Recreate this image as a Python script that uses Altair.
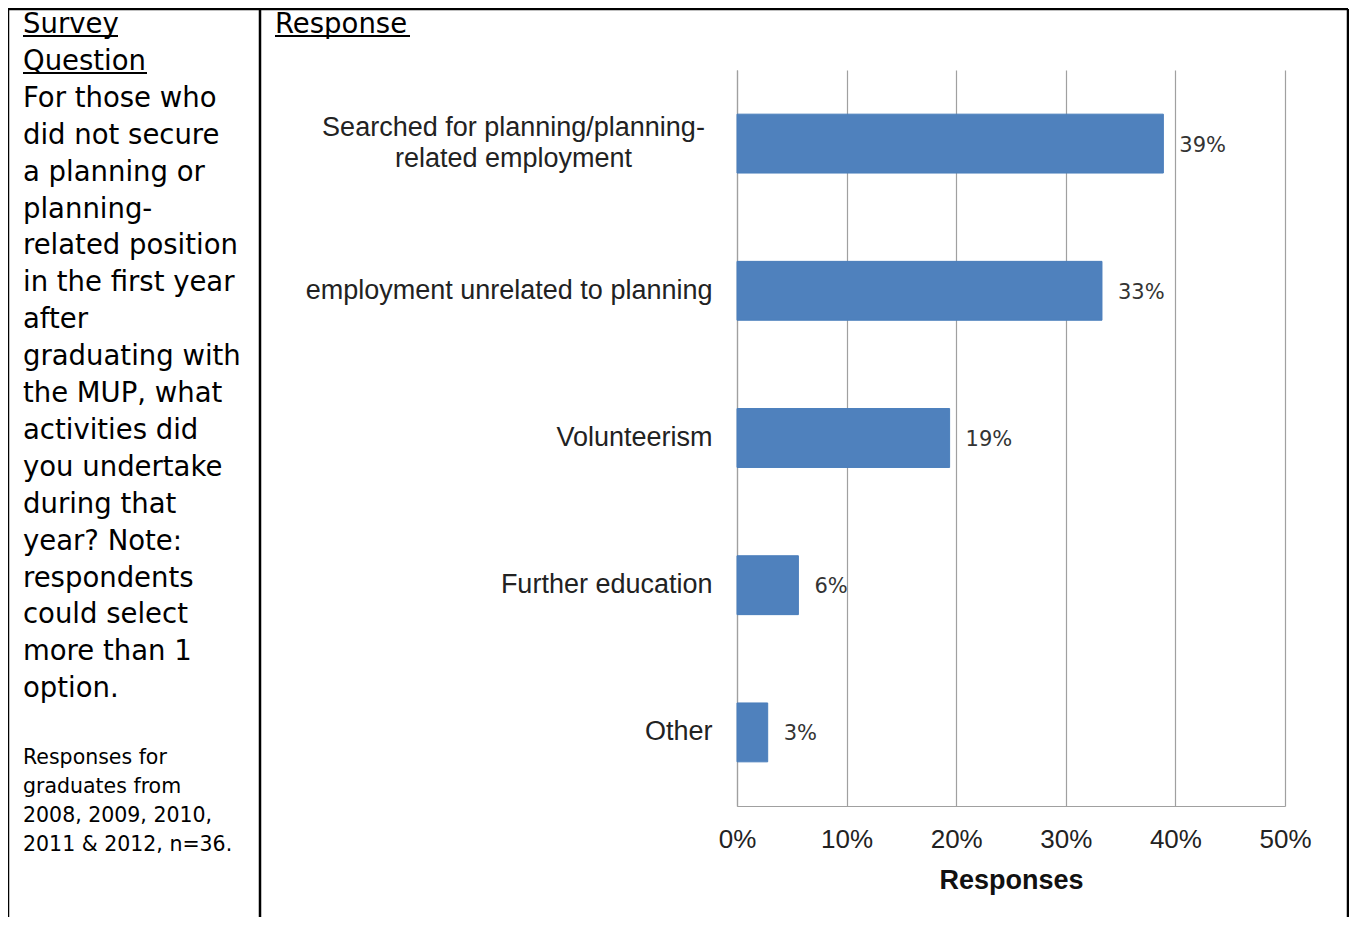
import altair as alt
import pandas as pd

# ---- data ----
categories = [
    "Searched for planning/planning-\nrelated employment",
    "employment unrelated to planning",
    "Volunteerism",
    "Further education",
    "Other",
]
shares = [0.389, 0.333, 0.194, 0.056, 0.028]
x_ticks = [0, 0.1, 0.2, 0.3, 0.4, 0.5]

question_lines = [
    "Survey", "Question", "For those who", "did not secure", "a planning or",
    "planning-", "related position", "in the first year", "after",
    "graduating with", "the MUP, what", "activities did", "you undertake",
    "during that", "year?  Note:", "respondents", "could select",
    "more than 1", "option.",
]
note_lines = ["Responses for", "graduates from", "2008, 2009, 2010,", "2011 & 2012, n=36."]
response_header = "Response"

df = pd.DataFrame({"Category": categories, "Share": shares})
one = pd.DataFrame({"k": [0]})

# plot area origin in page coordinates is (737, 70)
W, H = 548, 736
OX, OY = 737, 70

is_two_line = "indexof(datum.label, 'Searched') == 0"

y_enc = alt.Y(
    "Category:N",
    sort=categories,
    title=None,
    scale=alt.Scale(paddingInner=0.6, paddingOuter=0.3),
    axis=alt.Axis(
        labelExpr="split(datum.label, '\\n')",
        labelFont="Liberation Sans",
        labelFontSize=27,
        labelColor="#222222",
        labelPadding={"condition": {"test": is_two_line, "value": 224}, "value": 25},
        labelAlign={"condition": {"test": is_two_line, "value": "center"}, "value": "right"},
        labelOffset={"condition": {"test": is_two_line, "value": -16}, "value": 0},
        labelLimit=600,
        labelLineHeight=31,
        ticks=False,
        grid=False,
        domainColor="#a0a0a0",
        domainWidth=1.2,
    ),
)
x_enc = alt.X(
    "Share:Q",
    scale=alt.Scale(domain=[0, 0.5]),
    title="Responses",
    axis=alt.Axis(
        values=x_ticks,
        format=".0%",
        labelFont="Liberation Sans",
        labelFontSize=26,
        labelColor="#222222",
        labelPadding=20,
        labelFlush=False,
        ticks=False,
        grid=True,
        gridColor="#a0a0a0",
        gridWidth=1.2,
        domainColor="#a0a0a0",
        domainWidth=1.2,
        titleFont="Liberation Sans",
        titleFontSize=27,
        titleFontWeight="bold",
        titleColor="#111111",
        titlePadding=15,
    ),
)

bars = alt.Chart(df).mark_bar(color="#4F81BD", stroke="#4A7EBB", strokeWidth=1).encode(
    x=x_enc, y=y_enc
)
values = alt.Chart(df).mark_text(
    align="left", baseline="middle", dx=16, dy=2, font="DejaVu Sans", fontSize=21, color="#333333"
).encode(
    x=x_enc,
    y=y_enc,
    text=alt.Text("Share:Q", format=".0%"),
)

def px(x):
    return x - OX

def py(y):
    return y - OY

# table borders
def rule(x1, y1, x2, y2, w=2.5, color="black"):
    return alt.Chart(one).mark_rule(color=color, strokeWidth=w).encode(
        x=alt.value(px(x1)), x2=alt.value(px(x2)), y=alt.value(py(y1)), y2=alt.value(py(y2))
    )

borders = [
    rule(8, 9, 1348, 9),
    rule(8, 9, 8, 917),
    rule(260, 9, 260, 917),
    rule(1348, 9, 1348, 917),
    # underlines
    rule(23, 36, 118, 36, w=1.8),
    rule(23, 73, 147, 73, w=1.8),
    rule(275, 36, 410, 36, w=1.8),
]

question = alt.Chart(one).mark_text(
    text=question_lines, align="left", baseline="alphabetic", font="DejaVu Sans",
    fontSize=27.5, lineHeight=36.9, color="black",
).encode(x=alt.value(px(23)), y=alt.value(py(33)))

note = alt.Chart(one).mark_text(
    text=note_lines, align="left", baseline="alphabetic", font="DejaVu Sans",
    fontSize=20.5, lineHeight=29, color="black",
).encode(x=alt.value(px(23)), y=alt.value(py(764)))

header = alt.Chart(one).mark_text(
    text=response_header, align="left", baseline="alphabetic", font="DejaVu Sans",
    fontSize=27.5, color="black",
).encode(x=alt.value(px(275)), y=alt.value(py(33)))

chart = alt.layer(bars, values, question, note, header, *borders).properties(
    width=W,
    height=H,
    background="white",
    autosize=alt.AutoSizeParams(type="none"),
    padding={"left": OX - 8, "top": OY - 8, "right": 1341 - (OX - 8) - W, "bottom": 909 - (OY - 8) - H},
).configure_view(stroke="transparent", strokeWidth=0)

chart.save("out.html", embed_options={"renderer": "svg", "actions": False})
